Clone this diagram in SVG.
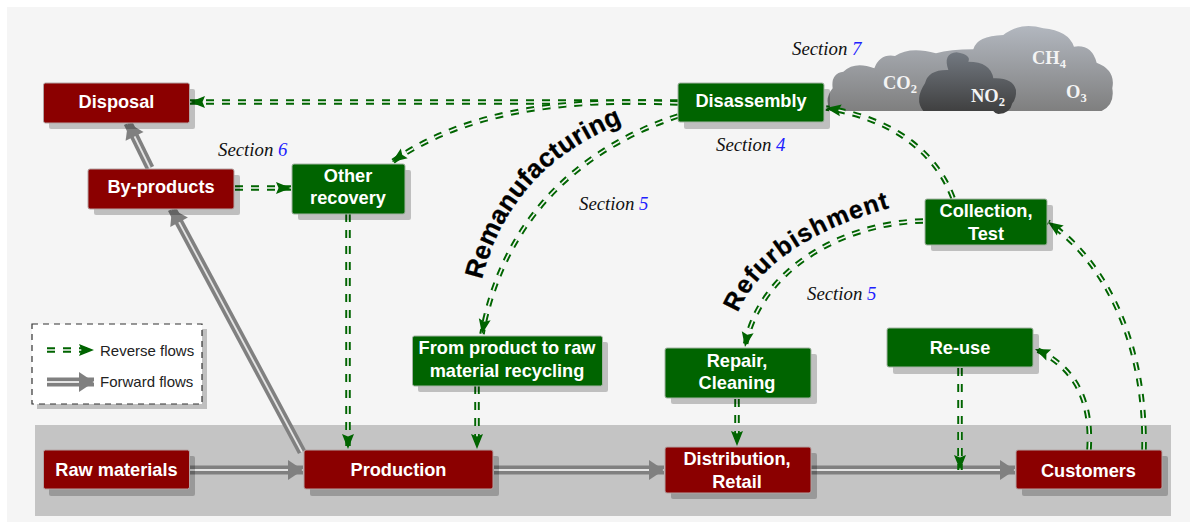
<svg xmlns="http://www.w3.org/2000/svg" width="1201" height="522" viewBox="0 0 1201 522">
<style>
.sh{fill:#000;fill-opacity:.22}
.red{fill:#8b0000;stroke:#b4a4a4;stroke-width:1}
.grn{fill:#006400;stroke:#a4b4a4;stroke-width:1}
.nt{font:bold 18.2px "Liberation Sans",Arial,sans-serif;fill:#fff;text-anchor:middle}
.sec{font:italic 18.8px "Liberation Serif","Times New Roman",serif;fill:#111}
.sec tspan{fill:#2020ff}
.gas{font:bold 18.5px "Liberation Serif","Times New Roman",serif;fill:#f4f4f4}
.gas tspan{font-size:12.500px}
.big{font:bold 26px "Liberation Sans",Arial,sans-serif;fill:#000;stroke:#000;stroke-width:.3;letter-spacing:.4px}
.lg{font:15px "Liberation Sans",Arial,sans-serif;fill:#222}
.r1,.r2,.f1,.f2{fill:none}
.r1{stroke:#006400;stroke-width:5.5;stroke-dasharray:8 8}
.r2{stroke:#f5f5f5;stroke-width:1.6;stroke-dasharray:8 8;marker-end:url(#hr)}
.f1{stroke:#808080;stroke-width:9}
.f2{stroke:#e4e4e4;stroke-width:1.8;marker-end:url(#hf)}
</style>
<defs>
<marker id="hr" markerUnits="userSpaceOnUse" markerWidth="18" markerHeight="14" refX="16" refY="7" orient="auto"><path d="M1,1 L16,7 L1,13 L3.500,7 Z" fill="#006400"/></marker>
<marker id="hf" markerUnits="userSpaceOnUse" markerWidth="18" markerHeight="24" refX="16" refY="12" orient="auto"><path d="M1,2 L16,12 L1,22 Z" fill="#808080"/></marker>
<linearGradient id="c1" x1="0" y1="0" x2="0" y2="1"><stop offset="0" stop-color="#b2b7bf"/><stop offset="1" stop-color="#7f7f7f"/></linearGradient>
<linearGradient id="c2" x1="0" y1="0" x2="0" y2="1"><stop offset="0" stop-color="#737981"/><stop offset="1" stop-color="#3d3d3d"/></linearGradient>
</defs>
<rect x="7" y="7" width="1183" height="515" fill="#f5f5f5"/>
<rect x="35" y="425" width="1136" height="91" fill="#c4c4c4"/>

<g id="clouds" transform="translate(780 20) scale(.3333)">
<path fill="url(#c1)" d="M150,273 Q132,235 158,205 Q152,160 190,155 Q225,122 283,145 Q300,100 345,108 Q390,78 468,100 Q510,88 580,88 Q590,48 670,45 Q720,5 790,25 Q865,32 882,80 Q935,72 950,128 Q1008,150 997,205 Q1005,255 965,273 Z"/>
<path fill="url(#c2)" d="M430,273 Q402,240 435,190 Q445,148 505,150 Q488,100 530,97 Q575,105 565,125 Q632,125 640,175 Q698,172 708,210 Q710,235 697,250 Q690,282 655,282 Q645,280 640,273 Z"/>
</g>
<text class="gas" x="883" y="89">CO<tspan dy="4">2</tspan></text>
<text class="gas" x="971" y="102">NO<tspan dy="4">2</tspan></text>
<text class="gas" x="1032" y="64">CH<tspan dy="4">4</tspan></text>
<text class="gas" x="1066" y="98">O<tspan dy="4">3</tspan></text>

<g id="labels">
<text class="sec" x="792" y="55">Section <tspan>7</tspan></text>
<text class="sec" x="218" y="156">Section <tspan>6</tspan></text>
<text class="sec" x="716" y="151">Section <tspan>4</tspan></text>
<text class="sec" x="579" y="210">Section <tspan>5</tspan></text>
<text class="sec" x="807" y="300">Section <tspan>5</tspan></text>
<path id="pRe" d="M482,280 Q510,165 630,120" fill="none"/>
<path id="pRf" d="M738,313 Q768,240 900,205" fill="none"/>
<text class="big"><textPath href="#pRe">Remanufacturing</textPath></text>
<text class="big" style="font-size:25px;letter-spacing:1.200px"><textPath href="#pRf">Refurbishment</textPath></text>
</g>

<g id="legend">
<rect class="sh" x="37" y="329" width="170" height="80"/>
<rect x="32" y="324" width="170" height="80" fill="#fff" stroke="#333" stroke-width="1.2" stroke-dasharray="6 5"/>
<path class="r1" d="M47,350H94"/><path class="r2" d="M47,350H94"/>
<path class="f1" d="M47,382H94"/><path class="f2" d="M47,382H94"/>
<text class="lg" x="100" y="356">Reverse flows</text>
<text class="lg" x="100" y="387">Forward flows</text>
</g>

<g id="connectors">
<path class="r1" d="M678,102H190"/><path class="r2" d="M678,102H190"/>
<path class="r1" d="M678,103C600,100 480,100 392,162"/><path class="r2" d="M678,103C600,100 480,100 392,162"/>
<path class="r1" d="M678,116C590,145 505,210 482,334"/><path class="r2" d="M678,116C590,145 505,210 482,334"/>
<path class="r1" d="M477,386V449"/><path class="r2" d="M477,386V449"/>
<path class="r1" d="M348,214V449"/><path class="r2" d="M348,214V449"/>
<path class="r1" d="M235,188H291"/><path class="r2" d="M235,188H291"/>
<path class="r1" d="M953,198C935,150 890,118 826,108"/><path class="r2" d="M953,198C935,150 890,118 826,108"/>
<path class="r1" d="M923,221C850,222 760,265 745,347"/><path class="r2" d="M923,221C850,222 760,265 745,347"/>
<path class="r1" d="M737,399V446"/><path class="r2" d="M737,399V446"/>
<path class="f1" d="M190,470H303"/><path class="f2" d="M190,470H303"/>
<path class="f1" d="M494,470H664"/><path class="f2" d="M494,470H664"/>
<path class="f1" d="M811,470H1015"/><path class="f2" d="M811,470H1015"/>
<path class="f1" d="M302,452L172,209"/><path class="f2" d="M302,452L172,209"/>
<path class="f1" d="M150,168L128,123"/><path class="f2" d="M150,168L128,123"/>
<path class="r1" d="M960,368V470"/><path class="r2" d="M960,368V470"/>
<path class="r1" d="M1144,450C1146,350 1110,265 1048,222"/><path class="r2" d="M1144,450C1146,350 1110,265 1048,222"/>
<path class="r1" d="M1089,450C1092,405 1078,368 1035,349"/><path class="r2" d="M1089,450C1092,405 1078,368 1035,349"/>
</g>

<g id="disposal"><rect class="sh" x="49" y="89" width="146" height="40" rx="2"/><rect class="red" x="43.500" y="83" width="146" height="40" rx="2"/><text class="nt" x="116.500" y="108">Disposal</text></g>
<g id="by-products"><rect class="sh" x="94" y="175" width="146" height="40" rx="2"/><rect class="red" x="88" y="169" width="146" height="40" rx="2"/><text class="nt" x="161" y="193">By-products</text></g>
<g id="other-recovery"><rect class="sh" x="298" y="170" width="113" height="50" rx="2"/><rect class="grn" x="292" y="164" width="113" height="50" rx="2"/><text class="nt" x="348" y="182">Other</text><text class="nt" x="348" y="204">recovery</text></g>
<g id="disassembly"><rect class="sh" x="684" y="89" width="146" height="40" rx="2"/><rect class="grn" x="678" y="83" width="146" height="39" rx="2"/><text class="nt" x="751" y="107">Disassembly</text></g>
<g id="collection"><rect class="sh" x="931" y="205" width="122" height="46" rx="2"/><rect class="grn" x="925" y="199" width="122" height="46" rx="2"/><text class="nt" x="986" y="217">Collection,</text><text class="nt" x="986" y="240">Test</text></g>
<g id="from-product"><rect class="sh" x="418" y="342" width="190" height="50" rx="2"/><rect class="grn" x="412.500" y="336" width="190" height="50" rx="2"/><text class="nt" x="507" y="354">From product to raw</text><text class="nt" x="507" y="377">material recycling</text></g>
<g id="repair"><rect class="sh" x="671" y="354" width="146" height="50" rx="2"/><rect class="grn" x="665" y="348" width="146" height="50" rx="2"/><text class="nt" x="737" y="367">Repair,</text><text class="nt" x="737" y="389">Cleaning</text></g>
<g id="re-use"><rect class="sh" x="893" y="334" width="146" height="40" rx="2"/><rect class="grn" x="887" y="328" width="146" height="39" rx="2"/><text class="nt" x="960" y="354">Re-use</text></g>
<g id="raw-materials"><rect class="sh" x="49" y="456" width="146" height="40" rx="2"/><rect class="red" x="43.500" y="450" width="146" height="39" rx="2"/><text class="nt" x="116.500" y="476">Raw materials</text></g>
<g id="production"><rect class="sh" x="310" y="456" width="189" height="40" rx="2"/><rect class="red" x="304" y="450" width="189" height="39" rx="2"/><text class="nt" x="398.500" y="476">Production</text></g>
<g id="distribution"><rect class="sh" x="671" y="453" width="146" height="46" rx="2"/><rect class="red" x="665" y="447" width="146" height="46" rx="2"/><text class="nt" x="737" y="465">Distribution,</text><text class="nt" x="737" y="488">Retail</text></g>
<g id="customers"><rect class="sh" x="1022" y="456" width="146" height="40" rx="2"/><rect class="red" x="1016" y="450" width="146" height="39" rx="2"/><text class="nt" x="1088.500" y="477">Customers</text></g>
</svg>
